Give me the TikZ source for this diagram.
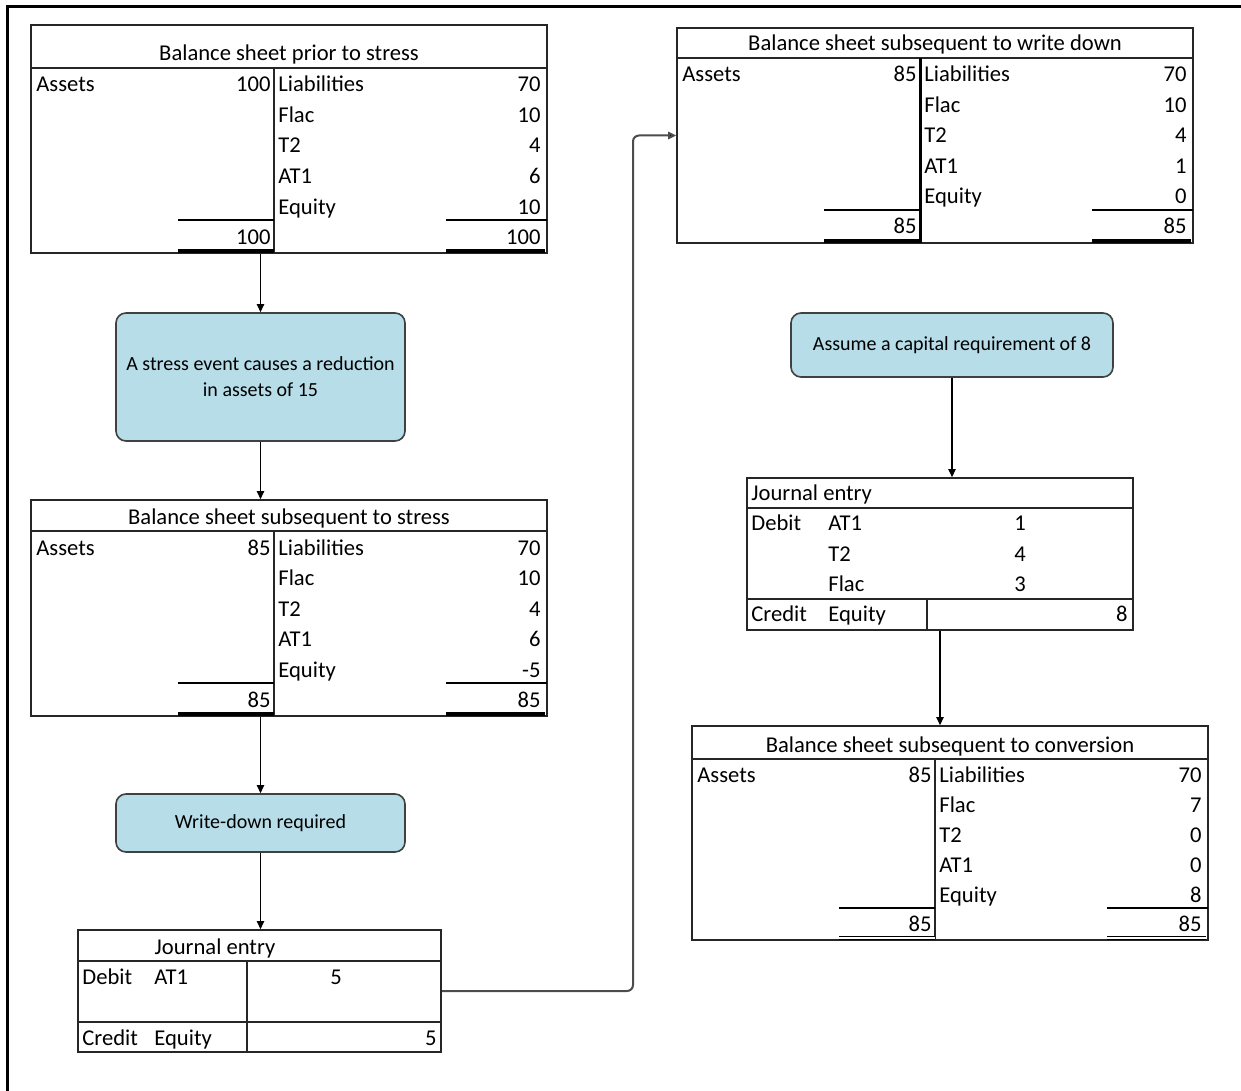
\documentclass[tikz,border=0pt]{standalone}
\usepackage{fontspec}
\setmainfont{Carlito}
\usetikzlibrary{fit,arrows.meta}
\definecolor{boxblue}{HTML}{B7DDE8}
\tikzset{
 tbl/.style={draw=black!85, line width=0.8pt, inner sep=0pt},
 tline/.style={draw=black!85, line width=1pt},
 vline/.style={draw=black!85, line width=0.8pt},
 sline/.style={draw=black, line width=0.8pt},
 uline/.style={draw=black, line width=2.2pt},
 txt/.style={inner sep=0pt, font=\fontsize{11.3}{13}\selectfont},
 rbox/.style={draw=black!75, line width=0.8pt, fill=boxblue, rounded corners=5pt, align=center, font=\fontsize{10}{13}\selectfont, inner sep=2pt},
 arr/.style={draw=black, line width=0.75pt, -{Triangle[length=4pt,width=3.6pt]}},
 longconn/.style={draw=black!70, line width=1pt, rounded corners=3pt, -{Triangle[length=4pt,width=3.6pt,fill=black]}},
 frame/.style={draw=black, line width=1.5pt}
}
\newcommand\bsheet[8][]{%
\begin{scope}[shift={(#3,#4)},#1]
 \node[tbl, fit={(0,0)(516,#5+185)}] (#2) {};
 \draw[tline] (0,#5) -- (516,#5);
 \draw[vline] (243,#5) -- (243,#5+185);
 \node[txt, anchor=base] (#2-t) at (258,#5-7) {#6};
 \node[txt, anchor=base west] (#2-a) at (5,#5+24) {Assets};
 \node[txt, anchor=base east] (#2-av) at (240,#5+24) {#7};
 \foreach \lab [count=\i from 0] in {Liabilities,Flac,T2,AT1,Equity}
   \node[txt, anchor=base west] (#2-l\i) at (247,#5+24+30.5*\i) {\lab};
 \foreach \v [count=\i from 0] in {#8}
   \node[txt, anchor=base east] (#2-v\i) at (510,#5+24+30.5*\i) {\v};
 \draw[sline] (147,#5+152) -- (243,#5+152) (415,#5+152) -- (516,#5+152);
 \node[txt, anchor=base east] (#2-ta) at (240,#5+176) {#7};
 \node[txt, anchor=base east] (#2-tl) at (510,#5+176) {#7};
 \draw[uline] (147,#5+183) -- (243,#5+183) (415,#5+183) -- (514,#5+183);
\end{scope}}
\begin{document}
\begin{tikzpicture}[x=0.5pt, y=-0.5pt]
\useasboundingbox (0,0) rectangle (1241,1091);
\draw[frame] (7,1091) -- (7,7) -- (1241,7);

% balance sheets
\bsheet{t1}{31}{25}{43}{Balance sheet prior to stress}{100}{70,10,4,6,10}
\bsheet{t2}{31}{500}{31}{Balance sheet subsequent to stress}{85}{70,10,4,6,-5}
\bsheet[vline/.style={draw=black, line width=1.5pt}]{t3}{677}{28}{30}{Balance sheet subsequent to write down}{85}{70,10,4,1,0}
\bsheet[yscale=0.978, uline/.style={draw=black, double=white, line width=0.5pt, double distance=1pt}]{t4}{692}{726}{34}{Balance sheet subsequent to conversion}{85}{70,7,0,0,8}

% rounded boxes
\node[rbox, minimum width=144.5pt, minimum height=64pt] (a) at (260.5,377) {A stress event causes a reduction\\in assets of 15};
\node[rbox, minimum width=144.5pt, minimum height=29pt] (b) at (260.5,823) {Write-down required};
\node[rbox, minimum width=161pt, minimum height=32pt] (c) at (952,345) {Assume a capital requirement of 8};

% journal entry 1
\node[tbl, fit={(78,930)(441,1052)}] (j1) {};
\draw[tline] (78,961) -- (441,961);
\draw[vline] (247,961) -- (247,1052);
\draw[vline] (78,1022) -- (441,1022);
\node[txt, anchor=base] (j1t) at (215,954) {Journal entry};
\node[txt, anchor=base west] (j1d) at (82,984) {Debit};
\node[txt, anchor=base west] (j1da) at (154,984) {AT1};
\node[txt, anchor=base] (j1dv) at (336,984) {5};
\node[txt, anchor=base west] (j1c) at (82,1045) {Credit};
\node[txt, anchor=base west] (j1ce) at (154,1045) {Equity};
\node[txt, anchor=base east] (j1cv) at (437,1045) {5};

% journal entry 2
\node[tbl, fit={(747,478)(1133,630)}] (j2) {};
\draw[tline] (747,508) -- (1133,508);
\draw[tline] (747,599) -- (1133,599);
\draw[vline] (927,599) -- (927,630);
\node[txt, anchor=base west] (j2t) at (751,500) {Journal entry};
\node[txt, anchor=base west] (j2d) at (751,530) {Debit};
\node[txt, anchor=base west] (j2d1) at (828,530) {AT1};
\node[txt, anchor=base] (j2v1) at (1020,530) {1};
\node[txt, anchor=base west] (j2d2) at (828,561) {T2};
\node[txt, anchor=base] (j2v2) at (1020,561) {4};
\node[txt, anchor=base west] (j2d3) at (828,591) {Flac};
\node[txt, anchor=base] (j2v3) at (1020,591) {3};
\node[txt, anchor=base west] (j2c) at (751,621) {Credit};
\node[txt, anchor=base west] (j2ce) at (828,621) {Equity};
\node[txt, anchor=base east] (j2cv) at (1128,621) {8};

% connectors
\draw[arr] (t1.south -| a.north) -- (a.north);
\draw[arr] (a.south) -- (a.south |- t2.north);
\draw[arr] (t2.south -| b.north) -- (b.north);
\draw[arr] (b.south) -- (b.south |- j1.north);
\coordinate (bend) at (633,135);
\draw[longconn] (j1.east) -| (bend |- t3.west) -- (t3.west);
\draw[arr] (c.south) -- (c.south |- j2.north);
\draw[arr] (j2.south) -- (j2.south |- t4.north);
\end{tikzpicture}
\end{document}
